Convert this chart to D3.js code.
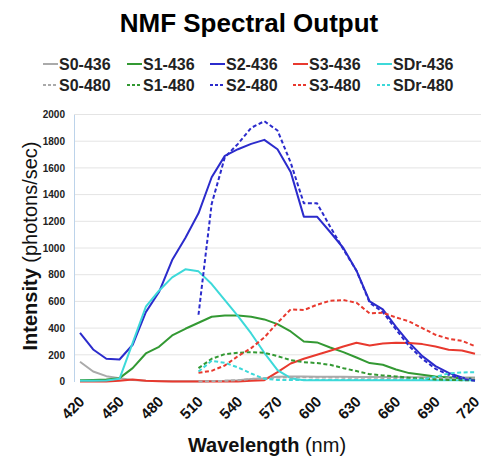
<!DOCTYPE html>
<html>
<head>
<meta charset="utf-8">
<script src="https://cdn.jsdelivr.net/npm/d3@7"></script>
<style>
  body { margin: 0; background: #fff; }
  svg text { font-family: Arial, "Liberation Sans", sans-serif; }
</style>
</head>
<body>
<div id="chart"></div>
<script>
// Wavelength categories (nm)
var wavelengths = [420, 430, 440, 450, 460, 470, 480, 490, 500, 510, 520, 530, 540, 550, 560, 570,
                   580, 590, 600, 610, 620, 630, 640, 650, 660, 670, 680, 690, 700, 710, 720];
var xTicks = [420, 450, 480, 510, 540, 570, 600, 630, 660, 690, 720];
var yTicks = [0, 200, 400, 600, 800, 1000, 1200, 1400, 1600, 1800, 2000];

// Excitation 436
var s0_436  = [148, 75, 40, 25, 12, 5, 3, 2, 2, 2, 3, 5, 10, 18, 25, 35, 38, 38, 36, 35, 35, 34, 34, 33, 33, 32, 32, 31, 31, 30, 30];
var s1_436  = [10, 12, 15, 25, 100, 210, 260, 345, 395, 440, 485, 495, 495, 485, 465, 430, 375, 300, 293, 255, 220, 180, 138, 125, 90, 63, 50, 38, 30, 25, 22];
var s2_436  = [365, 240, 170, 165, 275, 520, 670, 910, 1075, 1260, 1530, 1690, 1740, 1780, 1810, 1740, 1570, 1235, 1235, 1120, 1000, 830, 600, 540, 410, 290, 190, 115, 65, 30, 10];
var s3_436  = [0, 0, 0, 5, 15, 5, 2, 0, 0, 0, 0, 0, 0, 5, 10, 70, 135, 170, 200, 230, 262, 290, 270, 285, 290, 288, 280, 262, 238, 232, 208];
var sdr_436 = [5, 5, 8, 20, 290, 560, 680, 780, 840, 825, 730, 610, 490, 360, 215, 85, 25, 10, 10, 10, 10, 10, 10, 10, 10, 10, 10, 10, 10, 10, 10];

// Excitation 480 (no data below 510 nm)
var s0_480  = [null, null, null, null, null, null, null, null, null, 0, 3, 5, 10, 18, 25, 30, 32, 32, 30, 30, 29, 28, 28, 27, 27, 26, 26, 26, 25, 25, 25];
var s1_480  = [null, null, null, null, null, null, null, null, null, 100, 170, 205, 215, 220, 215, 190, 160, 145, 138, 125, 100, 78, 55, 45, 38, 28, 22, 15, 12, 10, 10];
var s2_480  = [null, null, null, null, null, null, null, null, null, 500, 1330, 1680, 1780, 1900, 1950, 1880, 1640, 1335, 1335, 1160, 990, 830, 590, 520, 390, 265, 170, 95, 50, 20, 5];
var s3_480  = [null, null, null, null, null, null, null, null, null, 65, 80, 120, 190, 250, 330, 440, 540, 535, 575, 605, 610, 590, 510, 515, 480, 450, 400, 350, 320, 305, 265];
var sdr_480 = [null, null, null, null, null, null, null, null, null, 75, 155, 140, 105, 60, 20, 12, 12, 12, 12, 12, 12, 12, 12, 12, 12, 13, 15, 35, 60, 68, 70];

var series = [
  {name: "S0-436",  values: s0_436,  color: "#aaaaaa", dash: null},
  {name: "S1-436",  values: s1_436,  color: "#339933", dash: null},
  {name: "S2-436",  values: s2_436,  color: "#2b2bcc", dash: null},
  {name: "S3-436",  values: s3_436,  color: "#e8392e", dash: null},
  {name: "SDr-436", values: sdr_436, color: "#3dd9d9", dash: null},
  {name: "S0-480",  values: s0_480,  color: "#aaaaaa", dash: "4,2.5"},
  {name: "S1-480",  values: s1_480,  color: "#339933", dash: "4,2.5"},
  {name: "S2-480",  values: s2_480,  color: "#2b2bcc", dash: "4,2.5"},
  {name: "S3-480",  values: s3_480,  color: "#e8392e", dash: "4,2.5"},
  {name: "SDr-480", values: sdr_480, color: "#3dd9d9", dash: "4,2.5"}
];

var width = 483, height = 463;

var svg = d3.select("#chart")
  .append("svg")
    .attr("width", width)
    .attr("height", height);

// Scales
var x = d3.scaleLinear().domain([420, 720]).range([80, 475]);
var y = d3.scaleLinear().domain([0, 2000]).range([381.5, 114.5]);

// Title
svg.append("text")
  .attr("x", 249)
  .attr("y", 32)
  .attr("text-anchor", "middle")
  .style("font-size", "26px")
  .style("font-weight", "bold")
  .text("NMF Spectral Output");

// Gridlines
svg.append("g")
  .selectAll("line")
  .data(yTicks.slice(1))
  .enter().append("line")
    .attr("x1", 74)
    .attr("x2", 481)
    .attr("y1", function(d) { return y(d); })
    .attr("y2", function(d) { return y(d); })
    .style("stroke", "#e4e4e4")
    .style("stroke-width", 1);

// Y axis
var yAxis = svg.append("g")
  .attr("transform", "translate(74,0)")
  .call(d3.axisLeft(y).tickValues(yTicks).tickSize(0).tickPadding(9).tickFormat(d3.format("d")));
yAxis.select(".domain").style("stroke", "#bcd3ea");
yAxis.selectAll("text")
  .style("font-size", "10px")
  .style("font-weight", "bold")
  .style("fill", "#222");

// X axis labels (rotated)
var xAxis = svg.append("g")
  .attr("transform", "translate(0,381.5)")
  .call(d3.axisBottom(x).tickValues(xTicks).tickSize(0).tickFormat(d3.format("d")));
xAxis.select(".domain").remove();
xAxis.selectAll("text")
  .attr("y", 0)
  .attr("dy", 0)
  .attr("transform", "translate(5,21) rotate(-45)")
  .style("text-anchor", "end")
  .style("font-size", "15px")
  .style("font-weight", "bold")
  .style("fill", "#111");

// Lines
var line = d3.line()
  .defined(function(d) { return d != null; })
  .x(function(d, i) { return x(wavelengths[i]); })
  .y(function(d) { return y(d); });

svg.append("g")
  .selectAll("path")
  .data(series)
  .enter().append("path")
    .attr("d", function(d) { return line(d.values); })
    .style("fill", "none")
    .style("stroke", function(d) { return d.color; })
    .style("stroke-width", 2)
    .style("stroke-dasharray", function(d) { return d.dash; })
    .style("stroke-linejoin", "round");

// Legend: 5 columns x 2 rows
var legendX = [43, 127, 210, 293, 377];
var legendY = [64, 85];
var legend = svg.append("g")
  .selectAll("g")
  .data(series)
  .enter().append("g")
    .attr("transform", function(d, i) {
      return "translate(" + legendX[i % 5] + "," + legendY[Math.floor(i / 5)] + ")";
    });
legend.append("line")
  .attr("x1", 0).attr("x2", 15)
  .attr("y1", 0).attr("y2", 0)
  .style("stroke", function(d) { return d.color; })
  .style("stroke-width", 2)
  .style("stroke-dasharray", function(d) { return d.dash ? "3,2" : null; });
legend.append("text")
  .attr("x", 16)
  .attr("y", 6)
  .style("font-size", "16px")
  .style("font-weight", "bold")
  .style("fill", "#222")
  .text(function(d) { return d.name; });

// Axis titles
var yTitle = svg.append("text")
  .attr("transform", "translate(37,246) rotate(-90)")
  .attr("text-anchor", "middle")
  .style("font-size", "20px")
  .style("fill", "#111");
yTitle.append("tspan").style("font-weight", "bold").text("Intensity");
yTitle.append("tspan").text(" (photons/sec)");

var xTitle = svg.append("text")
  .attr("x", 267)
  .attr("y", 452)
  .attr("text-anchor", "middle")
  .style("font-size", "20px")
  .style("fill", "#111");
xTitle.append("tspan").style("font-weight", "bold").text("Wavelength");
xTitle.append("tspan").text(" (nm)");
</script>
</body>
</html>
